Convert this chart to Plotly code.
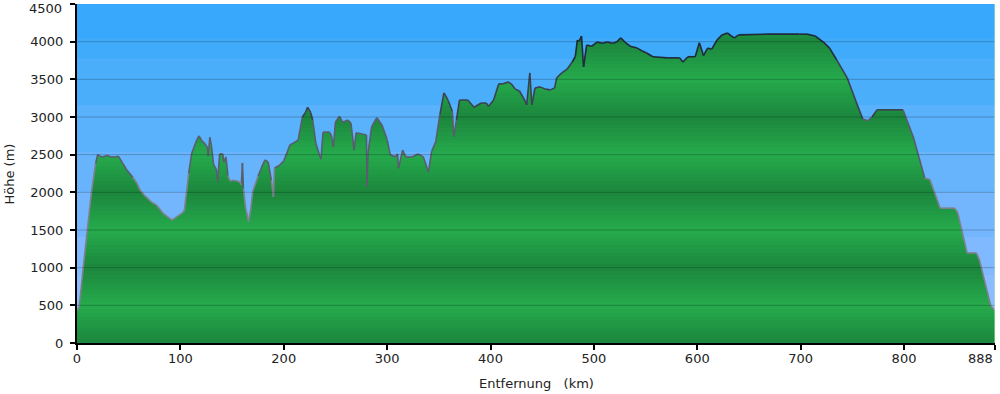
import plotly.graph_objects as go

# ---- data ----
km = [0, 2, 3, 6, 10, 14, 18, 20, 22, 25, 29, 33, 37, 40, 44, 48, 54, 58, 61, 65, 68, 72, 77, 80, 83, 87,
      90, 92, 95, 98, 101, 104, 105, 106, 108, 111, 116, 118, 121, 124, 126, 127, 128.5, 130, 132, 134,
      135, 136, 138, 141, 142, 144, 146, 148, 151, 155, 158, 159, 160, 161, 163, 166, 168, 170, 175, 180,
      182, 185, 188, 190, 191, 196, 200, 203, 206, 210, 214, 218, 221, 223, 226, 228, 231, 234, 236, 238,
      241, 244, 246, 248, 250, 254, 257, 262, 265, 268, 270, 276, 280, 280.5, 281.5, 285, 290, 295, 300,
      303, 308, 310, 311, 315, 318, 324, 330, 335, 340, 343, 347, 351, 355, 359, 363, 364.5, 367, 370,
      378, 384, 391, 396, 398, 403, 408, 412, 417, 420, 424, 428, 433, 435, 438, 440, 443, 448, 453, 458,
      462, 464, 469, 474, 479, 482, 484, 486, 488, 490, 493, 498, 503, 508, 513, 518, 522, 526, 530, 535,
      542, 547, 551, 557, 571, 583, 586, 591, 598, 602, 606, 610, 614, 619, 624, 629, 633, 636, 640, 667,
      699, 706, 714, 722, 728, 735, 745, 753, 760, 765, 769, 774, 799, 809, 820, 825, 835, 849, 852, 861,
      870, 873, 884, 888]
elev = [430, 480, 600, 1000, 1500, 2000, 2380, 2500, 2480, 2470, 2490, 2470, 2470, 2480, 2390, 2300, 2200,
        2120, 2030, 1960, 1925, 1870, 1830, 1780, 1725, 1680, 1650, 1630, 1660, 1690, 1715, 1760, 1900,
        2000, 2250, 2520, 2700, 2750, 2680, 2640, 2600, 2480, 2730, 2620, 2380, 2320, 2300, 2140, 2510,
        2510, 2400, 2470, 2220, 2150, 2160, 2150, 2130, 2100, 2390, 2050, 1800, 1610, 1770, 2010, 2210,
        2380, 2430, 2400, 2160, 1940, 2320, 2360, 2420, 2520, 2630, 2660, 2695, 3000, 3060, 3130, 3060,
        2960, 2655, 2520, 2440, 2800, 2800, 2800, 2760, 2600, 2935, 3010, 2930, 2960, 2920, 2560, 2790,
        2775, 2760, 2070, 2520, 2870, 2990, 2895, 2700, 2500, 2470, 2510, 2320, 2560, 2470, 2470, 2510,
        2470, 2270, 2540, 2670, 3030, 3320, 3220, 3080, 2740, 2960, 3225, 3225, 3130, 3185, 3185, 3140,
        3225, 3440, 3440, 3465, 3440, 3370, 3345, 3225, 3160, 3585, 3160, 3385, 3400, 3370, 3360, 3385,
        3520, 3585, 3635, 3730, 3800, 4020, 4010, 4075, 3665, 3955, 3940, 3995, 3980, 3995, 3980, 3995,
        4050, 3995, 3940, 3915, 3875, 3850, 3800, 3785, 3785, 3730, 3800, 3800, 3985, 3815, 3915, 3900,
        4020, 4090, 4115, 4075, 4050, 4090, 4100, 4100, 4100, 4075, 3995, 3915, 3755, 3520, 3225, 2975,
        2950, 3000, 3095, 3095, 2735, 2190, 2170, 1790, 1790, 1725, 1195, 1195, 1100, 490, 425]

x_ticks = [0, 100, 200, 300, 400, 500, 600, 700, 800, 888]
y_ticks = [0, 500, 1000, 1500, 2000, 2500, 3000, 3500, 4000, 4500]
x_title = "Entfernung   (km)"
y_title = "Höhe (m)"

# ---- styles ----
Y_MAX = 4500
X_MAX = 888
sky_bands = [(4050, 4500, "#38a8fc"), (3760, 4050, "#41abfb"), (3150, 3760, "#4aaefb"),
             (2530, 3150, "#5ab1fc"), (2000, 2530, "#67b4fd"), (1400, 2000, "#74b6fe"),
             (900, 1400, "#80b9ff"), (0, 900, "#8bbcff")]
light = (0x25, 0xab, 0x4d)
dark = (0x1c, 0x86, 0x3c)
stripe = 50


def mix(t):
    return "rgb(%d,%d,%d)" % tuple(round(light[i] + (dark[i] - light[i]) * t) for i in range(3))


cscale = []
n = Y_MAX // stripe
for i in range(n):
    a = i * stripe
    b = a + stripe
    mid = (a + b) / 2
    t = abs((mid % 1000) - 500) / 500.0
    c = mix(t)
    cscale.append([a / Y_MAX, c])
    cscale.append([b / Y_MAX, c])

fig = go.Figure()
fig.add_trace(go.Scatter(
    x=km, y=elev, mode="lines", line=dict(width=0, color="rgba(0,0,0,0)"),
    fill="tozeroy",
    fillgradient=dict(type="vertical", colorscale=cscale, start=0, stop=Y_MAX),
    hoverinfo="skip", showlegend=False))

# outline coloured by height
classes = [(3700, 99999, "#1f2a3a"), (3000, 3700, "#3a4252"), (2200, 3000, "#5a5e6c"), (-1, 2200, "#7e818c")]
for lo, hi, col in classes:
    xs, ys = [], []
    for i in range(len(km) - 1):
        m = (elev[i] + elev[i + 1]) / 2
        if lo <= m < hi:
            xs += [km[i], km[i + 1], None]
            ys += [elev[i], elev[i + 1], None]
    fig.add_trace(go.Scatter(x=xs, y=ys, mode="lines", line=dict(width=1.6, color=col),
                             hoverinfo="skip", showlegend=False, connectgaps=False))

shapes = []
for a, b, c in sky_bands:
    shapes.append(dict(type="rect", xref="x", yref="y", x0=0, x1=X_MAX, y0=a, y1=b,
                       fillcolor=c, line=dict(width=0), layer="below"))
for g in y_ticks[1:-1]:
    shapes.append(dict(type="line", xref="x", yref="y", x0=0, x1=X_MAX, y0=g, y1=g,
                       line=dict(color="rgba(0,0,0,0.22)", width=1), layer="above"))
shapes.append(dict(type="line", xref="x", yref="y", x0=X_MAX, x1=X_MAX, y0=0, y1=Y_MAX,
                   line=dict(color="#b6ecb0", width=1), layer="above"))

FAM = "DejaVu Sans, Verdana, sans-serif"
font = dict(family=FAM, size=13, color="#222222")

# edge tick labels are placed as annotations so they stay inside the page
x_text = [str(v) for v in x_ticks[:-1]] + [""]
y_text = [str(v) for v in y_ticks[:-1]] + [""]

fig.update_layout(
    width=1000, height=394,
    margin=dict(l=77, r=5, t=4, b=51, autoexpand=False),
    paper_bgcolor="#ffffff", plot_bgcolor="#8bbcff",
    font=font, shapes=shapes, showlegend=False,
    xaxis=dict(range=[0, X_MAX], tickvals=x_ticks, ticktext=x_text,
               showgrid=False, zeroline=False, showline=True, linecolor="#000", linewidth=2,
               ticks="outside", ticklen=5, tickwidth=1.5, tickcolor="#000",
               automargin=False, tickfont=font, ticklabelstandoff=-3),
    yaxis=dict(range=[0, Y_MAX], tickvals=y_ticks, ticktext=y_text,
               showgrid=False, zeroline=False, showline=True, linecolor="#000", linewidth=2,
               ticks="outside", ticklen=5, tickwidth=1.5, tickcolor="#000",
               automargin=False, tickfont=font, ticklabelstandoff=4),
    annotations=[
        dict(text=x_title, xref="paper", yref="paper", x=0.5, y=-0.118, xanchor="center",
             yanchor="middle", showarrow=False, font=font),
        dict(text=y_title, xref="paper", yref="paper", x=-0.073, y=0.5, xanchor="center",
             yanchor="middle", showarrow=False, font=font, textangle=-90),
        dict(text=str(x_ticks[-1]), xref="x", yref="paper", x=x_ticks[-1], y=-0.047,
             xanchor="right", yanchor="middle", showarrow=False, font=font, xshift=0),
        dict(text=str(y_ticks[-1]), xref="paper", yref="y", x=-0.014, y=y_ticks[-1],
             xanchor="right", yanchor="middle", showarrow=False, font=font, yshift=-4),
    ],
)

fig.write_html("out.html",
               config={"displayModeBar": False},
               post_script="document.body.style.margin='0';document.body.style.padding='0';")
